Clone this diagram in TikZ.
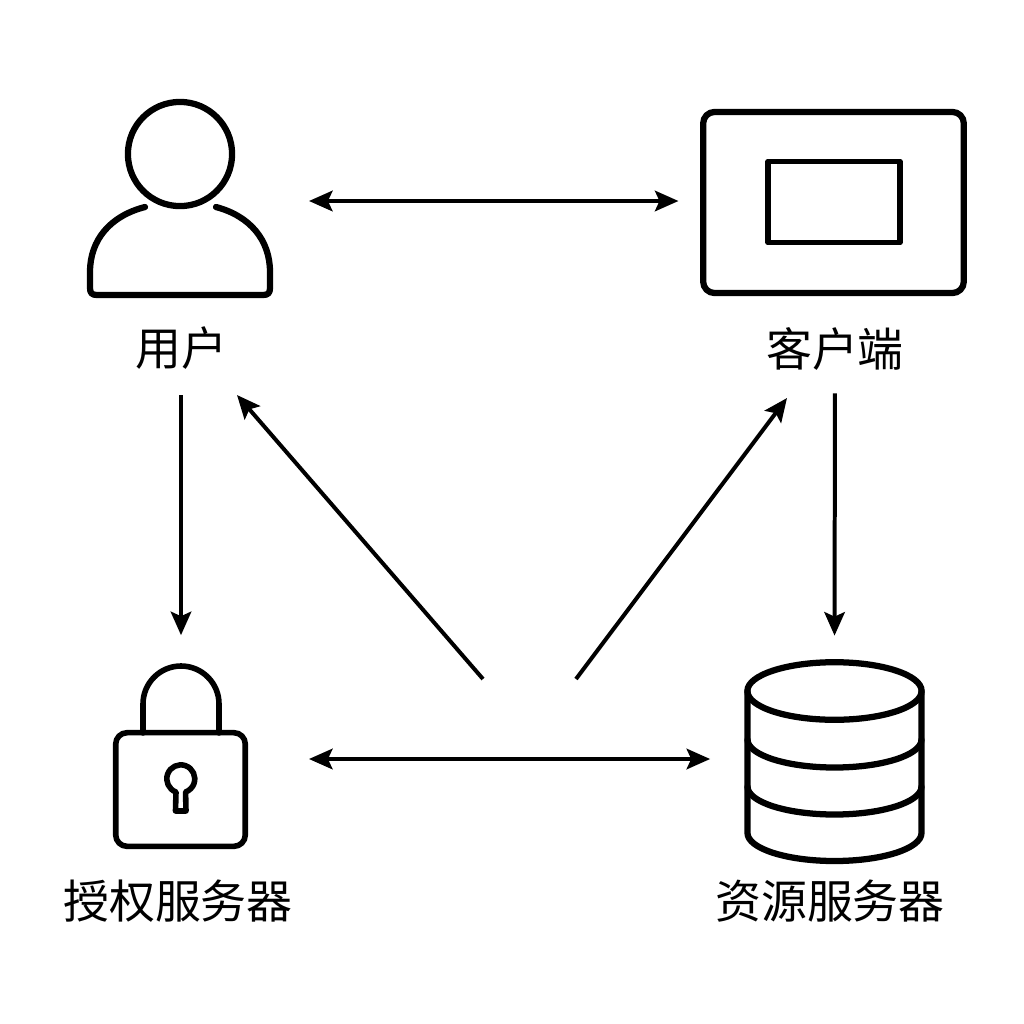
\documentclass[tikz,border=0pt]{standalone}
\usepackage{fontspec}
\setmainfont{Noto Sans CJK SC}
\usepackage{tikz}
\usetikzlibrary{arrows.meta,shapes.geometric,positioning,calc}
\tikzstyle{icon} = [line width=4.7pt, line join=round, line cap=round]
\tikzstyle{thinicon} = [line width=4.2pt, line join=round, line cap=round]
\tikzstyle{label} = [inner sep=0pt, font=\fontsize{34.5}{34.5}\selectfont, text=black]
\tikzstyle{arrow} = [line width=3pt, -{Stealth[length=6.2mm,width=5.4mm,inset=1.2mm]}]
\tikzstyle{both} = [line width=3pt, {Stealth[length=6.2mm,width=5.4mm,inset=1.2mm]}-{Stealth[length=6.2mm,width=5.4mm,inset=1.2mm]}]

\begin{document}
\begin{tikzpicture}[x=0.0264cm, y=-0.0264cm]
\useasboundingbox (0,0) rectangle (1024,1024);

% Labels
\node (user) [label] at (181,348) {用户};
\node (client) [label] at (835,349) {客户端};
\node (auth) [label] at (178,901) {授权服务器};
\node (res) [label] at (830,901) {资源服务器};

% User
\node (userhead) [icon, draw, circle, inner sep=0pt, minimum size=2.75cm] at (180,154) {};
\draw [icon] (145,207) .. controls (110,216) and (90,240) .. (90,272) -- (90,288) .. controls (90,293) and (92,295) .. (97,295)
  -- (263,295) .. controls (268,295) and (270,293) .. (270,288) -- (270,272) .. controls (270,240) and (250,216) .. (216,207);

% Client
\node (screen) [icon, draw, rounded corners=3mm, inner sep=0pt, minimum width=6.88cm, minimum height=4.78cm] at (833.5,202.5) {};
\node (inner) [thinicon, draw, inner sep=0pt, minimum width=3.48cm, minimum height=2.14cm] at (834,202) {};

% Lock
\node (lockbody) [thinicon, draw, rounded corners=3mm, inner sep=0pt, minimum width=3.42cm, minimum height=3cm] at (180.5,789.5) {};
\draw [thinicon] (143,733) -- (143,704) arc (180:360:38) -- (219,733);
\draw [thinicon] (176,792) arc (110:430:14) -- (186,811) -- (175.5,811) -- cycle;

% Database
\node (dbtop) [icon, draw, ellipse, inner sep=0pt, minimum width=4.6cm, minimum height=1.52cm] at (834.5,691) {};
\draw [icon] (747.5,691) -- (747.5,833) arc (180:0:87 and 28) -- (921.5,691);
\draw [icon] (747.5,739.5) arc (180:0:87 and 28);
\draw [icon] (747.5,786.5) arc (180:0:87 and 28);

% Relations
\coordinate (userend) at (309,201);
\coordinate (authend) at (309,759);
\coordinate (midl) at (483,679);
\coordinate (midr) at (576,679);
\coordinate (userin) at (237,395);
\coordinate (clientin) at (787,398);

\draw [both, shorten >=0.57cm] (userend) -- (userend -| screen.west);
\draw [both, shorten >=0.9cm] (authend) -- (authend -| dbtop.west);
\draw [arrow, shorten <=0.68cm, shorten >=2.5cm] (user.south -| 181,0) -- (lockbody.north -| 181,0);
\draw [arrow, shorten <=0.6cm, shorten >=0.62cm] (client.south) -- (dbtop.north);
\draw [arrow] (midl) -- (userin);
\draw [arrow] (midr) -- (clientin);

\end{tikzpicture}
\end{document}
